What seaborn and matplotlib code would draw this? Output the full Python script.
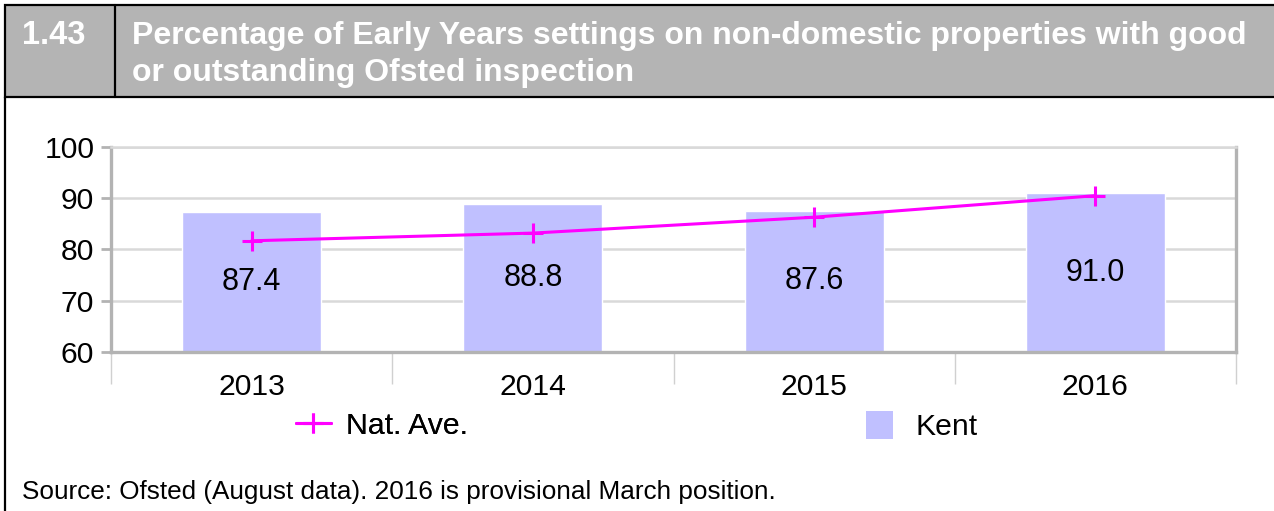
# =========================
# Libraries
# =========================

import matplotlib
matplotlib.use("Agg")
import matplotlib.pyplot as plt
import seaborn as sns
import pandas as pd
from matplotlib.lines import Line2D
from matplotlib.patches import Patch, Rectangle

# =========================
# Data
# =========================

years = ["2013", "2014", "2015", "2016"]
kent = [87.4, 88.8, 87.6, 91.0]
nat_ave = [81.7, 83.2, 86.3, 90.5]

y_ticks = [60, 70, 80, 90, 100]

section_no = "1.43"
title_lines = ["Percentage of Early Years settings on non-domestic properties with good",
               "or outstanding Ofsted inspection"]
source_text = "Source: Ofsted (August data). 2016 is provisional March position."

df = pd.DataFrame({"year": years, "Kent": kent, "Nat. Ave.": nat_ave})

# =========================
# Figure
# =========================

sns.set_style("white")
plt.rcParams["font.family"] = ["Liberation Sans", "DejaVu Sans"]
plt.rcParams["text.color"] = "black"
plt.rcParams["xtick.color"] = "black"
plt.rcParams["ytick.color"] = "black"

W, H = 1274, 511
fig = plt.figure(figsize=(W / 100, H / 100), dpi=100)

bar_color = "#c0c0ff"
line_color = "#ff00ff"
axis_grey = "#b3b3b3"
grid_grey = "#d9d9d9"
fs = 21.7

ax = fig.add_axes([111 / W, 1 - 352 / H, (1236 - 111) / W, (352 - 147) / H])

sns.barplot(data=df, x="year", y="Kent", color=bar_color, saturation=1, width=0.495, ax=ax, zorder=2)
ax.bar_label(ax.containers[0], fmt="%.1f", label_type="center", fontsize=22, color="black")

sns.pointplot(data=df, x="year", y="Nat. Ave.", color=line_color, markers="+", errorbar=None,
              markersize=14, linewidth=2.2, ax=ax, zorder=3)
for ln in ax.lines:
    ln.set_markeredgewidth(2.2)

ax.set_ylim(60, 100)
ax.set_xlim(-0.5, 3.5)
ax.set_yticks(y_ticks)
ax.set_xlabel("")
ax.set_ylabel("")
ax.yaxis.grid(True, color=grid_grey, linewidth=1.8, zorder=0)
ax.set_axisbelow(True)

for side in ["left", "bottom", "right"]:
    ax.spines[side].set_visible(True)
    ax.spines[side].set_color(axis_grey)
    ax.spines[side].set_linewidth(2.4)
ax.spines["top"].set_visible(True)
ax.spines["top"].set_color(grid_grey)
ax.spines["top"].set_linewidth(1.8)

ax.tick_params(axis="y", which="major", left=True, length=7, width=2, color=axis_grey,
               labelcolor="black", labelsize=fs, pad=5)
ax.tick_params(axis="x", which="major", length=0, labelcolor="black", labelsize=fs, pad=15)
ax.set_xticks([-0.5, 0.5, 1.5, 2.5, 3.5], minor=True)
ax.tick_params(axis="x", which="minor", bottom=True, length=23, width=1, color="#d0d0d0")

# =========================
# Legend
# =========================

leg1 = fig.legend(handles=[Line2D([0], [0], color=line_color, marker="+", markersize=14,
                                  markeredgewidth=2.2, linewidth=2.2)],
                  labels=["Nat. Ave."], loc="center left", bbox_to_anchor=(296 / W, 1 - 426 / H),
                  frameon=False, fontsize=fs, handlelength=1.15, handletextpad=0.5,
                  borderpad=0, borderaxespad=0)
fig.add_artist(leg1)
fig.legend(handles=[Patch(facecolor=bar_color, edgecolor="none")], labels=["Kent"],
           loc="center left", bbox_to_anchor=(866 / W, 1 - 426 / H), frameon=False, fontsize=fs,
           handlelength=0.88, handleheight=1.05, handletextpad=0.75, borderpad=0, borderaxespad=0)

# =========================
# Header and frame
# =========================

fig.add_artist(Rectangle((5 / W, 1 - 97 / H), 1.05, 92 / H, transform=fig.transFigure,
                         facecolor="#b4b4b4", edgecolor="black", linewidth=1.6, zorder=0))
fig.add_artist(Line2D([115 / W, 115 / W], [1 - 97 / H, 1 - 5 / H], transform=fig.transFigure,
                      color="black", linewidth=1.6))
fig.add_artist(Line2D([5 / W, 5 / W], [0, 1 - 97 / H], transform=fig.transFigure,
                      color="black", linewidth=1.6))

fig.text(22 / W, 1 - 36 / H, section_no, color="white", fontsize=23.5, fontweight="bold", va="center")
fig.text(132 / W, 1 - 36 / H, title_lines[0], color="white", fontsize=23, fontweight="bold", va="center")
fig.text(132 / W, 1 - 73 / H, title_lines[1], color="white", fontsize=23, fontweight="bold", va="center")

fig.text(22 / W, 1 - 492 / H, source_text, fontsize=18.8, va="center")

fig.savefig("out.png", dpi=100)
